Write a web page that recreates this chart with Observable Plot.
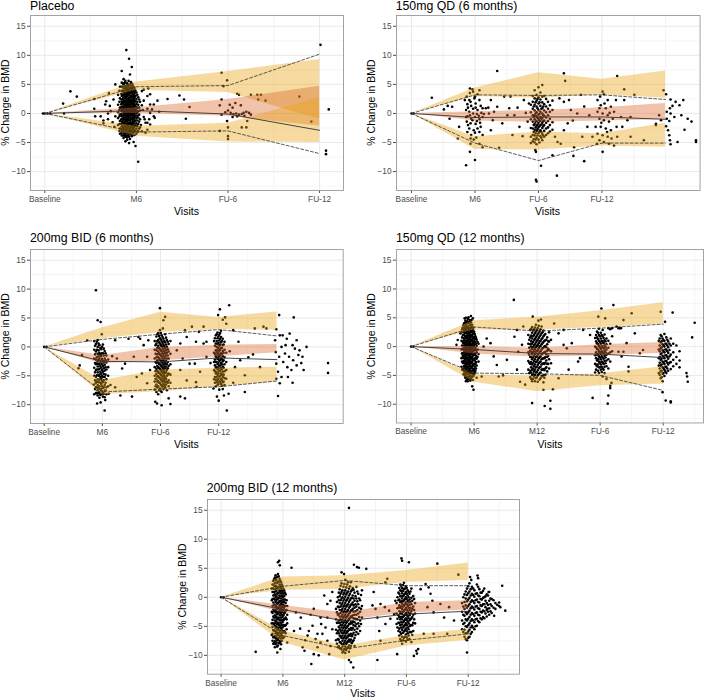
<!DOCTYPE html>
<html><head><meta charset="utf-8">
<script src="https://cdn.jsdelivr.net/npm/d3@7"></script>
<script src="https://cdn.jsdelivr.net/npm/@observablehq/plot@0.6"></script>
<style>
body{margin:0;background:#fff;}
#chart{position:relative;width:709px;height:698px;overflow:hidden;background:#fff;font-family:"Liberation Sans",Arial,sans-serif;}
.panel{position:absolute;}
.panel svg{overflow:visible;}
#overlay{position:absolute;left:0;top:0;pointer-events:none;}
</style></head><body><div id="chart"></div>
<script>
// ---------- shared ----------
const yTicks = [-10, -5, 0, 5, 10, 15];
const yMinor = [-12.5, -7.5, -2.5, 2.5, 7.5, 12.5];
const yDomain = [-13.25, 16.85];
const yTitle = "% Change in BMD";
const xTitle = "Visits";

// ---------- Panel 1: Placebo ----------
const p1Title = "Placebo";
const p1Visits = [0, 1, 2, 3];
const p1Labels = ["Baseline", "M6", "FU-6", "FU-12"];
const p1Median = [0, 0.5, -0.1, -2.9];
const p1Upper = [0, 4.6, 4.8, 10.2];
const p1Lower = [0, -3.2, -3.0, -6.9];
const p1UpLo = [0, 4.0, 3.6, -1.0];
const p1UpHi = [0, 5.4, 7.2, 9.3];
const p1MedLo = [0, 0.0, -0.5, -2.2];
const p1MedHi = [0, 1.0, 2.4, 4.7];
const p1LowLo = [0, -3.9, -4.9, -5.0];
const p1LowHi = [0, -2.2, -1.7, 2.7];
const p1Points = [
 [-0.02,0],[0,0],[0.03,0],[0.06,0],
 [0.2,1.7],[0.21,0],[0.28,3.8],[0.35,2.9],[0.54,2.5],[0.54,0.8],[0.55,-0.5],
 [0.61,-0.5],[0.64,-1.2,-1.7],[0.66,1.55],[0.67,2.1],[0.69,0,-1.0],[0.70,3.5],[0.71,1.3],[0.72,0.4],[0.74,-1.5],[0.75,2.4],[0.77,5.0,-0.5],[0.76,-2.3],
 [0.89,10.9],[0.92,9.4,-5.1],[0.95,8.0],[0.84,7.3],[0.86,5.9],[0.93,6.7,-4.4],[0.99,-5.6],[1.02,-8.3],[0.88,-4.8],[0.97,-4.9],
 [0.80,3.2,1.5,0.2,-0.8,-2.0],
 [0.815,3.9,2.0,0.6,-0.5,-1.8,-3.0],
 [0.82,4.6,2.6,1.0,-0.2,-1.3,-2.6,-3.5],
 [0.835,4.6,3.4,2.4,1.6,0.8,-0.1,-1.0,-1.8,-2.6,-3.4],
 [0.84,5.3,3.9,3.0,2.0,1.2,0.4,-0.5,-1.4,-2.2,-3.0,-3.8],
 [0.85,4.6,2.5,0.8,-1.0,-2.6],
 [0.855,5.2,3.9,3.2,2.4,1.8,1.1,0.4,-0.3,-0.9,-1.6,-2.3,-3.0,-3.8],
 [0.86,5.0,4.3,3.6,2.8,2.1,1.5,0.8,0.1,-0.6,-1.2,-1.9,-2.7,-3.4,-4.2],
 [0.87,3.2,1.9,0.5,-0.9,-2.3,-3.8],
 [0.875,5.3,4.4,3.6,2.9,2.2,1.5,0.9,0.3,-0.3,-1.0,-1.7,-2.4,-3.1,-3.8],
 [0.88,5.6,4.7,4.0,3.3,2.6,1.9,1.2,0.6,0,-0.7,-1.4,-2.1,-2.8,-3.5,-4.0],
 [0.89,4.4,2.9,1.6,0.3,-1.1,-2.5],
 [0.895,4.8,4.0,3.3,2.6,2.0,1.3,0.7,0.0,-0.6,-1.3,-2.0,-2.7,-3.4,-4.1],
 [0.90,5.2,4.4,3.7,3.0,2.3,1.6,1.0,0.3,-0.3,-1.0,-1.7,-2.4,-3.1,-3.8,-4.5],
 [0.91,4.8,3.4,2.0,0.6,-0.7,-2.0,-3.4],
 [0.915,5.6,4.5,3.7,3.1,2.4,1.7,1.1,0.4,-0.2,-0.9,-1.6,-2.3,-3.0,-3.7],
 [0.92,4.9,4.1,3.4,2.7,2.0,1.4,0.7,0.1,-0.5,-1.2,-1.9,-2.6,-3.3,-4.0],
 [0.93,3.8,2.3,1.0,-0.2,-1.6,-2.9],
 [0.935,5.0,4.3,3.5,2.8,2.1,1.5,0.8,0.2,-0.4,-1.1,-1.8,-2.5,-3.2],
 [0.94,5.4,4.6,3.8,3.1,2.4,1.8,1.1,0.5,-0.1,-0.8,-1.5,-2.2,-2.9,-3.6],
 [0.95,4.2,2.1,0.2,-1.8,-3.9],
 [0.955,5.1,4.4,3.6,2.9,2.2,1.6,0.9,0.3,-0.3,-1.0,-1.7,-2.4,-3.1,-3.8],
 [0.96,4.8,4.0,3.3,2.6,1.9,1.3,0.6,0,-0.6,-1.3,-2.0,-2.7,-3.4],
 [0.97,3.0,1.6,-0.3,-2.4],
 [0.975,4.5,3.7,3.0,2.3,1.6,1.0,0.4,-0.2,-0.9,-1.6,-2.4,-3.2],
 [0.98,4.2,3.4,2.7,2.0,1.3,0.7,0.1,-0.6,-1.3,-2.1,-2.9,-3.7],
 [0.99,3.9,3.0,2.1,1.2,0.4,-0.4,-1.2,-2.1,-3.0],
 [1.00,3.6,2.5,1.6,0.8,0,-0.8,-1.7,-2.6,-3.5],
 [1.01,3.2,2.0,1.0,0.2,-0.4,-1.2,-2.2,-3.2],
 [1.02,2.8,1.5,0.4,-0.7,-1.8,-3.0],
 [1.03,2.4,1.0,-0.2,-1.4,-2.6],
 [1.04,2.0,0.5,-1.0,-2.4],
 [1.05,-2.0],[1.06,3.85,1.4,-3.05],[1.07,0.6],[1.08,4.1,2.2,-0.6],[1.09,-1.0],[1.10,-1.6,-3.3],[1.12,3.0,0.8,-1.6,-2.8],[1.13,4.3],[1.14,-1.0],[1.15,1.55,0.1,-1.9,3.3],[1.17,0.7],[1.19,1.55,-0.5],[1.20,-0.75],[1.23,2.2],[1.25,0.3],[1.34,2.5],[1.47,3.1],[1.52,2.4],[1.54,-0.9],[1.58,1.1],
 [1.91,1.4,-3.0],[1.93,7.0,2.4,-0.2],[1.95,4.7],[1.97,0.2],[1.99,5.7,-1.3],[2.0,-2.4,-3.9,-4.4,0.5],[2.02,1.5],[2.03,0.1],[2.05,1.0,-0.6],[2.06,-0.1],[2.08,1.8],[2.09,0],[2.10,3.4,-0.5],[2.12,3.2,-0.2],[2.14,1.4],[2.15,-0.1,-2.4],[2.17,0.1],[2.18,-0.4],[2.2,0.3,-2.4],[2.21,-1.3],[2.23,0.1],[2.25,3.2,-0.2],[2.32,3.2],[2.33,2.4],[2.36,3.2],[2.41,2.2],
 [2.78,2.9],[2.91,-1.4],[3.01,11.8],[3.07,-6.4,-7.0],[3.10,0.7]
];

// ---------- Panel 2: 150mg QD (6 months) ----------
const p2Title = "150mg QD (6 months)";
const p2Visits = [0, 1, 2, 3, 4];
const p2Labels = ["Baseline", "M6", "FU-6", "FU-12"];
const p2Median = [0, -0.7, -0.6, -0.6, -1.0];
const p2Upper = [0, 3.2, 3.1, 3.2, 2.4];
const p2Lower = [0, -5.1, -8.1, -5.1, -5.1];
const p2UpLo = [0, 2.9, 2.6, 3.2, 2.6];
const p2UpHi = [0, 4.4, 7.0, 5.9, 7.3];
const p2MedLo = [0, -1.3, -1.5, -1.3, -1.1];
const p2MedHi = [0, 0.3, 0.5, 1.0, 1.7];
const p2LowLo = [0, -6.2, -6.3, -5.6, -5.8];
const p2LowHi = [0, -4.0, -3.2, -3.5, -1.7];
const p2Points = [
 [0,0],[0.03,0],[0.32,2.7],[0.51,0.7],[0.57,1.3],[0.60,-0.9],[0.64,1.15],[0.73,-4.3],[0.75,-2.3],[0.86,-8.9],[0.92,-6.6],[1.0,-8.0],[0.93,-4.3],
 [0.84,2.3],[0.86,0.6,-0.6],[0.87,2.9,-1.4],[0.88,1.6,-0.5,-3.2],[0.89,1.0,-2.0],[0.91,2.3,0.3,-2.6],[0.92,3.5,4.3,-0.3],[0.93,2.0,-1.7,-5.2],[0.94,1.3,-0.9,-3.7],[0.96,4.15,-1.15],[0.97,3.75,0.8,0],[0.98,-2.9,-4.5],[0.99,2.6],[1.0,2.9,-0.6,-3.3],[1.01,1.0,1.7,-1.8],[1.02,-4.15],[1.03,-0.1,-1.3],[1.04,3.3,0.6,-2.6],[1.06,-0.4],[1.07,2.3,-1.0,4.0,-3.2,-5.2],[1.08,-1.6],[1.09,1.3,-2.3],[1.10,0.1],[1.12,-0.6,-3.7,-5.8,0.9],[1.14,-0.1],
 [1.17,0.9],[1.21,1.0],[1.22,0],[1.25,2.3,-2.9],[1.28,-1.15],[1.30,0.3],[1.35,7.3,1.15],[1.38,-5.9],[1.43,-1.7],[1.46,2.9],[1.51,-0.3],[1.54,0.9],[1.56,2.9],[1.59,-3.7],[1.62,-0.3],[1.67,1.0],[1.70,-2.3],[1.75,-3.9],[1.77,2.3],[1.80,0.1],[1.83,-1.4],[1.85,1.7],
 [1.88,1.5,0.2,-1.0,-2.5,-4.0,-5.1],
 [1.91,3.0,2.0,0.8,-0.3,-1.4,-2.6,-3.7,-4.8],
 [1.925,1.2,-0.6,-2.0,-3.2,-4.4],
 [1.94,4.0,2.6,1.5,0.5,-0.3,-1.0,-1.8,-2.8,-3.8,-5.0],
 [1.955,1.9,0.0,-1.4,-2.4,-3.4,-4.5],
 [1.97,3.2,2.2,1.2,0.2,-0.5,-1.3,-2.1,-3.0,-4.2,-5.3],
 [1.985,2.5,0.9,-0.8,-1.9,-2.7,-3.8],
 [2.00,4.5,2.8,1.7,0.6,-0.2,-0.9,-1.6,-2.4,-3.4,-4.5],
 [2.015,1.9,-0.1,-1.2,-2.2,-3.1,-5.0],
 [2.03,3.6,2.4,1.3,0.3,-0.6,-1.3,-2.0,-2.9,-3.9],
 [2.045,0.8,-0.9,-1.9,-3.2,-4.2],
 [2.06,4.9,2.9,1.9,0.9,0,-0.8,-1.6,-2.5,-3.5,-4.6],
 [2.075,1.2,-0.3,-1.3,-2.2,-3.8],
 [2.09,3.0,1.6,0.5,-0.4,-1.2,-2.0,-3.0,-4.0],
 [2.12,2.5,1.2,0.2,-0.7,-1.6,-2.6,-3.7],
 [2.15,2.0,0.8,-0.3,-1.3,-2.4,-3.4],
 [2.18,1.4,0.3,-0.9,-2.0,-3.1],
 [2.22,2.2,0.6,-1.5,-2.8,-7.2],
 [1.96,-11.4,-6.6],[1.97,-11.7],[2.04,-9.0],[1.95,-6.3],[2.29,-10.7],
 [2.26,-4.0],[2.30,-4.9],[2.33,2.6],[2.35,-5.2],[2.40,6.9,2.0,-2.9],[2.42,5.6],[2.46,-1.7],[2.48,2.3],[2.51,0.6],[2.54,-1.2],[2.55,-7.3],[2.56,-5.8],[2.61,0],[2.67,3.2],[2.69,-4.0],[2.72,1.2,-8.2],[2.77,-2.3],[2.80,-0.3],[2.85,-4.0],
 [2.90,-2.3],[2.92,-5.2],[2.93,2.3,0.3,-3.5],[2.96,-0.9,-4.6,0.9],[2.97,2.9],[2.98,1.4,-2.3],[2.99,-1.6],[3.01,3.75,0,-3.75,-6.6],[3.03,3.3,-1.15,-4.9],[3.04,1.7],[3.06,0.9,-2.6],[3.08,-3.2],[3.09,2.3,-0.3,-4.0],[3.11,-1.4,-5.2],[3.12,0.1],[3.14,1.15,-2.9],[3.15,-4.3],[3.17,-0.9],[3.19,0.3,-5.5],[3.22,2.3],[3.23,-2.3],[3.24,6.45,-4.0],
 [3.30,-0.6],[3.32,-2.3],[3.35,4.15,2.3],[3.40,-1.15],[3.45,-0.6,-4.0],[3.51,3.2],[3.66,-4.6],[3.85,-1.8,-2.0],[3.90,-0.3],[3.93,-1.15],
 [3.97,4.0],[4.01,3.3,-2.2],[4.02,0.3,-0.9],[4.04,-2.9],[4.06,-1.3,-3.75],[4.07,0.9,-4.6],[4.08,2.4,0,-5.3],[4.11,1.3],[4.14,-0.6],[4.16,2.0],[4.19,-4.9],[4.22,1.4],[4.25,-0.3],[4.28,2.3],[4.30,-2.8],[4.35,-0.9],[4.41,-1.4],[4.48,-4.9,-4.6]
];

// ---------- Panel 3: 200mg BID (6 months) ----------
const p3Title = "200mg BID (6 months)";
const p3Visits = [0, 1, 2, 3, 4];
const p3Labels = ["Baseline", "M6", "FU-6", "FU-12"];
const p3Median = [0, -2.5, -2.6, -1.9, -2.2];
const p3Upper = [0, 1.3, 2.2, 3.0, 1.9];
const p3Lower = [0, -7.8, -7.3, -6.9, -5.9];
const p3UpLo = [0, 1.4, 2.5, 3.0, 2.9];
const p3UpHi = [0, 3.3, 6.0, 5.1, 6.05];
const p3MedLo = [0, -2.9, -2.4, -1.7, -1.0];
const p3MedHi = [0, -1.5, -0.1, 0.3, 0.4];
const p3LowLo = [0, -8.3, -7.7, -6.9, -6.05];
const p3LowHi = [0, -5.8, -4.0, -3.7, -3.5];
const p3Points = [
 [0,0],[0.04,0],[0.59,-3.7],[0.61,-3.2],[0.65,-1.4],[0.74,1.15],
 [0.89,9.8],[0.92,4.6],[0.97,4.3],[0.99,2.2],[0.91,-9.8],[0.97,-9.6],[1.04,-11.0],[1.05,-9.2],[1.01,-8.6],[1.11,-8.1],[1.31,-8.4],
 [0.86,1.0,-0.5,-2.0,-3.6,-5.0,-6.5,-8.2],
 [0.875,0.2,-1.3,-2.8,-4.4,-5.8,-7.3],
 [0.89,0.5,-0.8,-2.2,-3.0,-4.0,-5.2,-6.2,-7.0,-8.0],
 [0.905,0.9,-0.5,-1.8,-2.9,-3.9,-4.9,-6.0,-7.0,-8.0],
 [0.92,1.2,0.0,-1.2,-2.5,-3.4,-4.4,-5.6,-6.6,-7.5,-8.4],
 [0.935,0.6,-0.6,-1.6,-2.2,-3.0,-3.9,-5.0,-6.1,-7.1,-8.0],
 [0.95,0.3,-1.0,-2.0,-2.9,-3.8,-4.8,-5.7,-6.8,-7.8,-8.8],
 [0.965,-0.2,-1.3,-2.4,-3.3,-4.3,-5.2,-6.2,-7.3,-8.3],
 [0.98,-0.4,-1.6,-2.7,-3.6,-4.6,-5.5,-6.4,-7.3,-8.2],
 [0.995,0.0,-1.1,-2.1,-3.0,-4.0,-5.0,-5.9,-6.8,-7.7],
 [1.01,0.4,-1.1,-2.4,-3.3,-4.3,-5.2,-6.1,-7.1,-8.0],
 [1.025,-0.3,-1.5,-2.7,-3.7,-4.7,-5.8,-7.0,-8.1],
 [1.04,-0.7,-2.0,-3.1,-4.1,-5.2,-6.6,-7.6,-8.7],
 [1.055,-1.1,-2.3,-3.5,-4.8,-6.2,-7.5],
 [1.07,-1.5,-2.7,-3.9,-5.6,-7.0,-8.2],
 [1.10,-2.2,-3.5,-5.0,-6.8],
 [1.14,-6.6],[1.17,-1.6],[1.22,1.15,-7.0],[1.25,-2.0],[1.34,-3.75],[1.39,-2.9],[1.45,1.4],[1.51,-8.6],[1.54,-1.7],[1.59,-5.2],[1.62,1.7],[1.65,1.4],[1.68,-4.6],[1.71,0.3],[1.77,-1.7,-6.3],[1.79,1.15],[1.82,-4.0],
 [1.99,6.7],[2.05,4.6],[2.08,5.2],[1.94,-9.8],[2.02,-10.1],[2.17,-9.9],[1.91,-9.5],[2.14,-8.9],[2.04,3.2],
 [1.90,1.0,-0.5,-2.0,-3.5,-5.0,-6.0,-7.4],
 [1.915,0.3,-1.2,-2.6,-4.2,-5.5,-6.8],
 [1.93,1.8,0.6,-0.6,-1.8,-2.8,-3.8,-4.7,-5.6,-6.5,-7.8],
 [1.945,2.2,1.0,-0.2,-1.3,-2.3,-3.3,-4.2,-5.1,-6.0,-7.0],
 [1.96,2.4,1.2,0.2,-0.8,-1.8,-2.7,-3.5,-4.3,-5.1,-5.9,-6.8,-8.2],
 [1.975,1.9,0.8,-0.2,-1.1,-2.0,-2.9,-3.7,-4.5,-5.3,-6.2,-7.5],
 [1.99,2.9,1.5,0.6,-0.4,-1.3,-2.2,-3.0,-3.8,-4.6,-5.4,-6.2,-7.2],
 [2.005,2.4,1.3,0.3,-0.6,-1.5,-2.4,-3.2,-4.0,-4.8,-5.6,-6.5,-7.6],
 [2.02,2.0,1.0,0.1,-0.8,-1.7,-2.6,-3.4,-4.2,-5.0,-5.8,-6.7,-7.8],
 [2.035,1.7,0.7,-0.2,-1.1,-2.0,-2.8,-3.6,-4.4,-5.2,-6.0,-6.9],
 [2.05,1.4,0.4,-0.5,-1.4,-2.3,-3.1,-3.9,-4.7,-5.5,-6.4,-7.3],
 [2.065,1.0,0.1,-0.8,-1.7,-2.6,-3.4,-4.2,-5.0,-5.8,-6.7],
 [2.08,2.2,0.8,-0.2,-1.1,-2.0,-2.9,-3.7,-4.5,-5.3,-6.1,-7.0],
 [2.095,1.6,0.4,-0.6,-1.5,-2.5,-3.4,-4.4,-5.5,-6.5],
 [2.11,1.2,0,-1.0,-2.0,-3.0,-4.0,-5.0,-6.0,-7.5],
 [2.125,0.9,-0.4,-1.5,-2.6,-3.7,-4.8,-6.2],
 [2.14,0.5,-0.8,-2.0,-3.3,-4.6,-5.8,-6.8],
 [2.17,1.0,-1.2,-3.0,-4.8,-6.2],
 [2.28,-0.6],[2.34,0.6,-4.0,-8.6],[2.38,-2.0],[2.42,2.9,-8.9],[2.45,1.7,-5.8],[2.50,-2.9],[2.54,3.5],[2.59,-2.9],[2.61,0.9,-6.1],[2.62,-6.9],[2.66,2.6],[2.68,-4.3],[2.74,0.6,3.5],[2.79,-1.7,0.9],[2.86,-2.8],
 [3.02,6.5],[3.18,7.2],[2.99,5.5],[3.11,5.1],[3.07,4.7],[3.13,4.0],[3.14,-11.0],[3.0,-9.3],[2.97,-8.6],[3.09,-8.4],[3.17,-8.1],[2.91,-7.2],[3.25,-6.2],
 [2.92,1.0,-1.0,-2.6,-4.0,-5.6],
 [2.935,1.5,0.2,-1.2,-2.2,-3.2,-4.2,-5.2,-6.2],
 [2.95,2.0,0.6,-0.6,-1.6,-2.6,-3.6,-4.6,-5.7,-6.8],
 [2.965,2.2,1.0,0.0,-0.9,-1.8,-2.6,-3.5,-4.4,-5.2,-6.1],
 [2.98,2.5,1.5,0.5,-0.5,-1.3,-2.1,-3.0,-3.9,-4.8,-5.7,-6.6],
 [2.995,1.8,0.7,-0.2,-1.1,-2.0,-2.8,-3.7,-4.6,-5.5,-6.4],
 [3.01,2.1,1.1,0.2,-0.7,-1.6,-2.4,-3.3,-4.2,-5.1,-6.0,-7.4],
 [3.025,2.4,1.4,0.4,-0.5,-1.4,-2.3,-3.2,-4.1,-5.0,-6.0],
 [3.04,2.8,1.7,0.8,-0.2,-1.1,-2.0,-2.8,-3.7,-4.6,-5.5,-6.4],
 [3.055,1.0,-0.2,-1.2,-2.1,-3.0,-3.9,-4.8,-5.7,-6.7],
 [3.07,1.4,0.3,-0.7,-1.6,-2.5,-3.4,-4.3,-5.2,-6.1,-7.3],
 [3.085,0.4,-1.0,-2.3,-3.6,-4.8,-6.0],
 [3.10,0.9,-0.5,-1.8,-3.0,-4.2,-5.4,-6.6],
 [3.13,-1.0,-2.6,-4.0,-5.5],
 [3.19,-0.75],[3.25,2.9],[3.28,-3.5],[3.34,0.9],[3.37,-2.3],[3.45,-4.9,-7.8],[3.51,-1.8],[3.59,-1.3],[3.62,3.2],[3.71,-3.5],[3.77,3.5],[3.82,3.2],
 [3.97,1.15],[3.98,-0.9],[3.99,3.05,-5.5,-2.9],[4.02,-8.5,-4.3],[4.04,5.5,-1.7],[4.05,-6.3,2.0],[4.08,0,-5.2],[4.10,2.0],[4.11,-2.6],[4.14,-1.15],[4.15,0.3],[4.17,1.4],[4.18,-3.5],[4.19,-5.2],[4.21,-1.7],[4.22,2.3],[4.25,-4.0],[4.27,0.3,-6.2],[4.28,-2.3],[4.29,5.1],[4.31,-0.3],[4.34,1.15,-3.2],[4.37,-1.4],[4.39,-0.6],[4.42,-2.8],[4.44,-1.7],[4.46,-4.0],[4.51,0],[4.88,-2.8,-4.5]
];

// ---------- Panel 4: 150mg QD (12 months) ----------
const p4Title = "150mg QD (12 months)";
const p4Visits = [0, 1, 2, 3, 4];
const p4Labels = ["Baseline", "M6", "M12", "FU-6", "FU-12"];
const p4Median = [0, -0.5, -1.2, -1.3, -1.9];
const p4Upper = [0, 3.4, 2.7, 3.2, 3.9];
const p4Lower = [0, -4.6, -4.7, -5.0, -7.6];
const p4UpLo = [0, 2.9, 2.9, 3.3, 3.9];
const p4UpHi = [0, 4.5, 5.1, 6.2, 7.6];
const p4MedLo = [0, -1.3, -1.8, -1.6, -1.15];
const p4MedHi = [0, 0.0, -0.3, 0.3, 0.7];
const p4LowLo = [0, -6.2, -7.8, -6.8, -6.5];
const p4LowHi = [0, -4.9, -5.2, -4.7, -3.5];
const p4Points = [
 [0,0],[0.04,0],[0.72,0.3],[0.74,1.15],[0.78,2.3],[0.81,-1.15],
 [0.91,5.1],[0.95,5.3],[0.98,4.9],[0.99,-7.5],[0.97,-6.9],[1.04,-5.4],[1.12,-5.2],
 [0.80,2.5,1.0,-0.5,-2.0,-3.5],
 [0.81,3.0,1.6,0.2,-1.2,-2.6,-4.0],
 [0.82,3.3,2.0,0.8,-0.4,-1.6,-2.8,-4.0],
 [0.83,3.7,2.6,1.5,0.6,-0.3,-1.2,-2.0,-2.9,-3.8,-4.8],
 [0.84,4.0,3.0,2.0,1.1,0.2,-0.7,-1.6,-2.5,-3.4,-4.3],
 [0.85,4.9,4.1,3.2,2.3,1.4,0.6,-0.2,-1.0,-1.8,-2.6,-3.4,-4.2,-5.0],
 [0.86,4.5,3.6,2.7,1.8,1.0,0.2,-0.6,-1.4,-2.2,-3.0,-3.8,-4.6,-5.4],
 [0.87,5.0,4.2,3.3,2.5,1.7,0.9,0.3,-0.4,-1.2,-2.0,-2.8,-3.6,-4.4,-5.2,-6.0],
 [0.88,3.9,3.1,2.3,1.5,0.7,0,-0.8,-1.6,-2.4,-3.2,-4.0,-4.8,-5.8],
 [0.89,4.4,3.5,2.7,1.9,1.1,0.4,-0.4,-1.2,-2.0,-2.8,-3.6,-4.4,-5.4],
 [0.90,4.8,3.5,2.7,1.9,1.2,0.4,-0.3,-1.1,-1.9,-2.7,-3.5,-4.3,-5.2,-6.0],
 [0.91,4.1,3.1,2.3,1.5,0.8,0.0,-0.7,-1.5,-2.3,-3.1,-3.9,-4.7,-5.6],
 [0.92,4.2,3.2,2.4,1.6,0.8,0.1,-0.6,-1.4,-2.2,-3.0,-3.8,-4.6,-5.5],
 [0.93,4.6,3.7,2.8,2.0,1.2,0.5,-0.2,-1.0,-1.8,-2.6,-3.4,-4.2,-5.1],
 [0.94,3.8,2.9,2.1,1.3,0.5,-0.2,-0.9,-1.7,-2.5,-3.3,-4.1,-5.0,-5.9],
 [0.95,4.2,3.3,2.5,1.7,0.9,0.1,-0.6,-1.3,-2.1,-2.9,-3.7,-4.6,-5.6],
 [0.96,4.6,3.4,2.6,1.8,1.0,0.2,-0.5,-1.2,-2.0,-2.8,-3.6,-4.4,-5.3],
 [0.97,3.8,2.8,2.0,1.2,0.4,-0.3,-1.0,-1.8,-2.6,-3.4,-4.3,-5.2],
 [0.98,3.0,2.2,1.4,0.6,-0.1,-0.8,-1.5,-2.3,-3.1,-3.9,-4.8,-5.8],
 [0.99,3.3,2.4,1.6,0.8,0.0,-0.7,-1.5,-2.3,-3.2,-4.2,-5.1],
 [1.00,2.6,1.7,0.9,0.1,-0.6,-1.3,-2.1,-3.0,-3.9,-4.8],
 [1.01,2.2,1.3,0.4,-0.5,-1.4,-2.4,-3.5,-4.5],
 [1.02,1.8,0.8,-0.2,-1.1,-2.0,-3.0,-4.2],
 [1.03,1.5,0.5,-0.6,-1.6,-2.7,-3.8],
 [1.04,1.2,0.1,-1.0,-2.1,-3.3],
 [1.055,0.8,-0.5,-1.8],
 [1.07,0.5,-1.3,-2.6],
 [1.15,0],[1.20,1.4],[1.26,0.6],[1.31,-1.7],[1.36,-3.2],[1.39,-5.2],[1.46,-5.0],[1.52,-2.3],[1.63,8.1],[1.64,1.7],[1.68,2.9,-4.0],[1.70,-0.9],[1.73,-6.1],[1.76,0.3],[1.78,3.5],[1.81,-6.6],
 [1.93,5.2],[2.06,4.7],[2.02,4.5],[1.92,-9.8],[2.12,-10.3],[2.21,-10.8,-9.4],[2.10,-7.5],[2.25,-7.4],[2.27,4.0],[2.34,-5.5,2.3],
 [1.86,2.0,0.5,-1.0,-2.5,-4.0],
 [1.875,1.2,-0.2,-1.4,-2.8,-4.6],
 [1.89,2.9,1.6,0.4,-0.7,-1.8,-3.0,-4.2,-5.3],
 [1.905,3.1,1.9,0.9,0.0,-0.9,-1.8,-2.7,-3.6,-4.5,-5.6],
 [1.92,3.4,2.4,1.4,0.5,-0.4,-1.3,-2.2,-3.1,-4.0,-4.9,-6.0],
 [1.935,2.8,1.8,0.8,-0.1,-1.0,-1.9,-2.9,-3.8,-4.7,-5.6],
 [1.95,3.0,2.0,1.1,0.2,-0.7,-1.6,-2.5,-3.4,-4.3,-5.2],
 [1.965,3.3,2.3,1.3,0.4,-0.4,-1.3,-2.2,-3.1,-4.0,-4.9,-6.0],
 [1.98,3.8,2.6,1.6,0.7,-0.1,-0.9,-1.8,-2.7,-3.6,-4.5,-5.5],
 [1.995,2.9,1.9,1.0,0.1,-0.8,-1.7,-2.6,-3.5,-4.4,-5.3],
 [2.01,3.2,2.2,1.2,0.3,-0.6,-1.4,-2.3,-3.2,-4.1,-5.0,-6.1],
 [2.025,3.6,2.4,1.5,0.6,-0.3,-1.2,-2.0,-2.9,-3.8,-4.8],
 [2.04,2.7,1.8,0.9,0,-0.9,-1.8,-2.7,-3.6,-4.6,-5.7],
 [2.055,3.0,2.0,1.0,0.1,-0.8,-1.7,-2.6,-3.5,-4.5,-5.5],
 [2.07,3.5,2.3,1.3,0.4,-0.5,-1.3,-2.2,-3.1,-4.0,-5.1],
 [2.085,2.5,1.5,0.6,-0.3,-1.2,-2.1,-3.0,-4.0,-5.2],
 [2.10,2.8,1.8,0.8,-0.2,-1.1,-2.0,-2.9,-3.9,-5.0,-6.2],
 [2.115,2.0,1.0,0.0,-1.0,-2.0,-3.0,-4.1,-5.4],
 [2.13,2.2,1.1,0.1,-0.9,-1.8,-2.8,-3.8,-4.9],
 [2.145,1.2,-0.1,-1.3,-2.4,-3.6],
 [2.16,1.6,0.4,-0.7,-1.8,-3.0,-4.3],
 [2.175,0.9,-0.4,-1.6,-3.0],
 [2.19,2.5,0.9,-0.6,-2.2,-3.8],
 [2.22,1.2,-0.8,-2.9],
 [2.42,0.3,2.9],[2.47,-0.3],[2.50,-4.0],[2.55,0.6],[2.65,-2.6],[2.68,-2.0],[2.73,2.9],[2.84,2.0],
 [3.02,6.6],[3.21,7.2],[2.88,-8.9],[3.12,-9.9],[3.13,-8.5],[3.16,-6.8,-7.2],[3.18,-6.3],[2.97,5.2],[3.08,4.9],
 [2.92,1.5,0,-1.5,-3.0,-4.5],
 [2.935,2.0,0.9,-0.1,-1.0,-2.0,-3.1,-4.0],
 [2.95,2.6,1.6,0.6,-0.4,-1.4,-2.4,-3.4],
 [2.965,2.4,1.3,0.4,-0.5,-1.3,-2.2,-3.1,-4.2],
 [2.98,3.1,2.0,1.0,0.1,-0.8,-1.7,-2.6,-3.6,-4.6],
 [2.995,1.8,0.8,-0.1,-1.0,-1.9,-2.8,-3.6],
 [3.01,2.4,1.4,0.5,-0.4,-1.3,-2.2,-3.1,-4.0],
 [3.025,2.0,1.0,0.1,-0.8,-1.7,-2.6,-3.5,-4.4],
 [3.04,2.9,1.8,0.8,-0.1,-1.0,-1.9,-2.8,-3.8,-5.2],
 [3.055,1.5,0.6,-0.3,-1.2,-2.1,-3.0,-4.0],
 [3.07,2.1,1.1,0.2,-0.7,-1.6,-2.5,-3.5,-4.6],
 [3.085,0.9,-0.1,-1.0,-1.9,-2.9],
 [3.10,1.4,0.4,-0.5,-1.4,-2.4,-3.4,-5.6],
 [3.13,3.2,1.0,-0.2,-1.2,-2.2,-3.8],
 [3.16,3.0,0.5,-1.0,-2.6],
 [3.19,3.2,1.8,-0.8],
 [3.26,3.5],[3.29,3.2,-0.9],[3.31,3.2],[3.33,3.2],[3.34,-1.7],[3.37,-0.9,4.6],[3.42,0.6],[3.45,-3.5,-4.3],[3.50,5.8],[3.55,2.3],[3.63,-1.15],[3.68,-0.6],
 [3.96,6.05],[4.15,5.9],[4.03,4.3],[4.04,-9.35],[4.12,-9.5,-9.7],[3.99,-7.9],[4.39,-6.1],[4.50,4.15],[4.46,1.6],[4.37,-4.6],[4.38,-5.2],
 [3.93,1.0,-0.5,-2.0,-3.3,-4.6],
 [3.945,1.4,0.2,-0.8,-1.8,-2.8,-3.8,-4.9],
 [3.96,2.0,0.7,-0.3,-1.3,-2.3,-3.3,-4.3,-5.5],
 [3.975,1.8,0.9,-0.1,-1.1,-2.1,-3.1,-4.2,-5.3],
 [3.99,1.4,0.4,-0.6,-1.6,-2.6,-3.6,-4.7,-6.0],
 [4.005,1.1,0.2,-0.8,-1.8,-2.8,-3.8,-4.6],
 [4.02,2.2,1.0,0,-1.0,-2.0,-3.0,-4.0,-5.1],
 [4.035,0.5,-0.5,-1.5,-2.5,-3.5,-4.3],
 [4.05,1.6,0.5,-0.5,-1.5,-2.5,-3.5,-4.6],
 [4.065,1.2,0.2,-0.8,-1.8,-2.8,-3.8],
 [4.08,0.9,-0.1,-1.1,-2.1,-3.1,-4.2],
 [4.10,0.5,-0.6,-1.7,-2.8],
 [4.12,1.4,0.2,-1.4,-2.7,-3.9],
 [4.16,0.5,-1.0,-2.3,-3.4],
 [4.21,0.2,-1.8,-3.0],
 [4.26,-0.8,-2.4,-3.6]
];

// ---------- Panel 5: 200mg BID (12 months) ----------
const p5Title = "200mg BID (12 months)";
const p5Visits = [0, 1, 2, 3, 4];
const p5Labels = ["Baseline", "M6", "M12", "FU-6", "FU-12"];
const p5Median = [0, -2.1, -4.1, -2.9, -2.4];
const p5Upper = [0, 1.9, 2.9, 2.0, 2.0];
const p5Lower = [0, -6.6, -8.9, -7.4, -6.3];
const p5UpLo = [0, 1.2, 1.4, 2.6, 2.9];
const p5UpHi = [0, 3.5, 3.7, 4.6, 5.9];
const p5MedLo = [0, -2.6, -4.0, -2.7, -2.2];
const p5MedHi = [0, -1.4, -2.7, -0.9, -0.6];
const p5LowLo = [0, -7.8, -10.8, -8.4, -7.4];
const p5LowHi = [0, -5.8, -8.4, -6.6, -5.5];
const p5Points = [
 [0,0],[0.04,0],[0.56,-9.4],
 [0.94,6.3],[0.92,6.05],[0.95,5.5],[0.88,3.2],[1.14,5.1],[0.91,-9.5],[0.96,-8.9],[1.07,-7.8],
 [0.82,1.5,-0.5,-2.5,-4.5,-6.5],
 [0.8325,2.2,0.9,-0.3,-1.5,-2.7,-3.9,-5.1,-6.3,-7.5],
 [0.845,2.8,1.5,0.3,-0.9,-2.1,-3.3,-4.5,-5.7,-6.9,-8.0],
 [0.8575,3.1,2.0,0.9,-0.2,-1.3,-2.4,-3.5,-4.6,-5.7,-6.8,-7.9],
 [0.87,3.4,2.4,1.4,0.5,-0.4,-1.3,-2.2,-3.1,-4.0,-4.9,-5.8,-6.7,-7.6,-8.6],
 [0.8825,3.8,2.9,1.9,1.0,0.1,-0.8,-1.7,-2.6,-3.5,-4.4,-5.3,-6.2,-7.1,-8.1],
 [0.895,3.0,2.0,1.1,0.2,-0.6,-1.5,-2.4,-3.3,-4.2,-5.1,-6.0,-6.9,-7.8],
 [0.9075,3.5,2.5,1.5,0.6,-0.3,-1.1,-2.0,-2.9,-3.8,-4.7,-5.6,-6.5,-7.4,-8.5],
 [0.92,4.0,2.6,1.6,0.7,-0.2,-1.0,-1.8,-2.7,-3.6,-4.5,-5.4,-6.3,-7.2,-8.3],
 [0.9325,3.6,2.7,1.7,0.8,-0.1,-0.9,-1.8,-2.6,-3.5,-4.4,-5.2,-6.1,-7.0,-7.9],
 [0.945,3.2,2.2,1.2,0.3,-0.6,-1.4,-2.2,-3.0,-3.9,-4.8,-5.7,-6.6,-7.5],
 [0.9575,2.9,2.0,1.1,0.2,-0.7,-1.5,-2.3,-3.1,-4.0,-4.9,-5.8,-6.7,-7.7],
 [0.97,2.6,1.6,0.7,-0.2,-1.1,-1.9,-2.7,-3.5,-4.4,-5.3,-6.2,-7.1,-8.1],
 [0.9825,2.2,1.2,0.3,-0.6,-1.4,-2.2,-3.0,-3.9,-4.8,-5.7,-6.6,-7.5],
 [0.995,1.9,0.9,0,-0.9,-1.7,-2.5,-3.4,-4.3,-5.2,-6.1,-7.0],
 [1.0075,1.5,0.6,-0.4,-1.3,-2.2,-3.1,-4.0,-5.0,-6.0,-7.0],
 [1.02,1.2,0.2,-0.8,-1.8,-2.8,-3.8,-4.8,-5.8,-6.8],
 [1.0325,0.8,-0.4,-1.5,-2.6,-3.7,-4.9,-6.0],
 [1.045,0.5,-1.0,-2.3,-3.5,-4.8,-6.2],
 [1.06,-0.5,-2.2,-3.8,-5.5],
 [1.07,-1.5,-3.0,-4.5],
 [1.18,-5.8],[1.21,-2.6],[1.28,-5.4],[1.29,-3.5],[1.32,-8.6],[1.35,-9.2],[1.36,-7.4],[1.40,-6.6],[1.42,-5.8],[1.45,-3.0],[1.46,-11.5],[1.48,-4.9],[1.50,-2.0,-9.8],[1.53,-7.2],[1.56,-6.3,-8.6],[1.58,-10.0],[1.61,-7.8,-3.5],[1.62,-4.6],[1.64,-6.3],[1.67,0.3],[1.69,-5.2],[1.72,-7.5,-3.5,-1.15],[1.75,-9.8],[1.77,-8.4,-0.6],[1.80,-5.5,0.9],
 [2.07,15.4],[1.95,4.3],[1.99,4.0],[2.15,5.6],[2.20,5.2],[2.23,5.1],[2.35,4.9],[2.07,-10.8],[2.14,-12.1],[2.10,-11.2],
 [1.86,-2.0,-3.8,-5.6,-7.4],
 [1.875,-0.8,-2.6,-4.4,-6.2,-8.0],
 [1.89,0,-1.6,-3.0,-4.4,-5.8,-7.2,-8.6],
 [1.905,0.8,-0.5,-1.7,-2.9,-4.0,-5.1,-6.2,-7.3,-8.4],
 [1.92,1.4,0.2,-1.0,-2.2,-3.3,-4.4,-5.5,-6.6,-7.7,-8.8],
 [1.935,2.0,0.6,-0.5,-1.6,-2.7,-3.8,-4.8,-5.8,-6.8,-7.8,-8.8],
 [1.95,2.4,0.9,-0.2,-1.3,-2.3,-3.3,-4.3,-5.2,-6.1,-7.0,-8.0,-9.0],
 [1.965,1.2,0.0,-1.0,-2.0,-3.0,-3.9,-4.8,-5.7,-6.6,-7.5,-8.5,-9.5],
 [1.98,1.8,0.5,-0.6,-1.6,-2.6,-3.5,-4.4,-5.3,-6.2,-7.1,-8.1,-9.3],
 [1.995,2.3,0.8,-0.3,-1.4,-2.4,-3.3,-4.2,-5.1,-6.0,-6.9,-7.8,-8.9],
 [2.01,3.0,1.2,0.1,-1.0,-2.0,-3.0,-3.9,-4.8,-5.7,-6.6,-7.5,-8.5,-9.6],
 [2.025,1.7,0.5,-0.6,-1.6,-2.6,-3.5,-4.4,-5.3,-6.2,-7.1,-8.0,-9.1],
 [2.04,2.2,0.8,-0.4,-1.4,-2.4,-3.3,-4.2,-5.1,-6.0,-6.9,-7.8,-8.8],
 [2.055,2.6,1.0,-0.1,-1.2,-2.2,-3.1,-4.0,-4.9,-5.8,-6.7,-7.6,-8.6],
 [2.07,1.5,0.3,-0.8,-1.8,-2.8,-3.7,-4.6,-5.5,-6.4,-7.3,-8.3,-9.4],
 [2.085,1.9,0.6,-0.5,-1.6,-2.6,-3.6,-4.6,-5.6,-6.6,-7.6,-8.8],
 [2.10,2.6,1.0,-0.2,-1.3,-2.3,-3.3,-4.3,-5.3,-6.3,-7.3,-8.4],
 [2.115,1.2,-0.1,-1.2,-2.3,-3.4,-4.5,-5.6,-6.7,-7.9],
 [2.13,1.6,0.3,-0.9,-2.0,-3.1,-4.2,-5.3,-6.4,-7.6],
 [2.145,1.3,-0.2,-1.4,-2.5,-3.6,-4.8,-6.1,-7.4],
 [2.16,0.8,-0.6,-1.8,-3.0,-4.3,-5.6,-7.0,-8.4],
 [2.175,0.2,-1.2,-2.4,-3.7,-5.0,-6.5],
 [2.19,1.8,-0.2,-1.6,-3.0,-4.6,-6.0],
 [2.205,1.0,-0.7,-2.2,-3.8,-5.4],
 [2.22,0.6,-1.2,-2.8,-4.5,-6.3],
 [2.235,-0.2,-1.8,-3.4,-5.0],
 [2.25,-0.5,-2.5,-4.0,-5.8],
 [2.265,0.4,-2.0,-4.6],
 [2.28,1.2,-1.5,-3.5],
 [2.45,-1.4],[2.47,0.9],[2.50,-2.0],[2.53,-3.5,-10.8],[2.56,-5.8],[2.58,-7.5,-1.15],[2.65,-1.7],[2.66,2.6,-4.6],[2.69,3.2],[2.72,-2.3],[2.74,-3.7],[2.80,-2.9],[2.82,-0.6],
 [2.92,6.7],[2.93,6.3],[3.04,6.05],[3.12,-10.1],[3.17,-9.7],[3.19,-8.9],[3.16,-9.2],[2.85,-9.8],
 [2.84,-1.0,-2.8,-4.6],
 [2.855,0.0,-1.9,-3.7,-5.2],
 [2.87,0.8,-0.5,-1.8,-3.1,-4.4,-5.8],
 [2.885,1.6,0.6,-0.4,-1.4,-2.4,-3.4,-4.4,-5.4,-6.6],
 [2.90,2.2,1.2,0.2,-0.8,-1.8,-2.8,-3.8,-4.8,-6.0,-7.2],
 [2.915,2.0,1.1,0.2,-0.7,-1.6,-2.5,-3.4,-4.3,-5.2,-6.3,-7.5],
 [2.93,1.6,0.7,-0.2,-1.1,-2.0,-2.9,-3.8,-4.7,-5.6,-6.8,-8.0],
 [2.945,2.1,1.1,0.2,-0.7,-1.6,-2.5,-3.4,-4.3,-5.2,-6.1,-7.4],
 [2.96,2.5,1.4,0.4,-0.5,-1.4,-2.3,-3.2,-4.1,-5.0,-5.9,-7.0],
 [2.975,1.5,0.6,-0.3,-1.2,-2.1,-3.0,-3.9,-4.8,-5.7,-6.8],
 [2.99,1.9,0.9,0,-0.9,-1.8,-2.7,-3.6,-4.5,-5.4,-6.4,-7.6],
 [3.005,1.6,0.6,-0.3,-1.2,-2.1,-3.0,-3.9,-4.8,-5.8,-6.9],
 [3.02,1.2,0.3,-0.6,-1.5,-2.4,-3.3,-4.2,-5.2,-6.2,-7.3],
 [3.035,0.9,0.0,-0.9,-1.8,-2.7,-3.6,-4.5,-5.5,-6.6],
 [3.05,0.6,-0.4,-1.3,-2.2,-3.1,-4.0,-5.0,-6.0,-7.2],
 [3.065,1.0,-0.8,-1.8,-2.8,-3.8,-4.8,-6.0],
 [3.08,1.5,-0.1,-1.2,-2.4,-3.6,-4.8,-6.0,-7.7],
 [3.095,-0.6,-2.0,-3.4,-4.8,-6.5],
 [3.11,0.2,-1.6,-3.0,-4.4,-5.8],
 [3.125,-0.3,-2.2,-3.8],
 [3.14,-1.0,-2.8,-4.5],
 [3.23,1.4],[3.28,-6.3],[3.31,2.3],[3.34,-1.7],[3.36,1.7],[3.39,0.6],[3.42,-0.6],[3.44,-2.6,-6.3],[3.50,5.8],[3.55,-1.15],[3.61,-3.5],[3.66,-6.3],[3.69,-1.7],[3.77,-4.0],
 [3.84,3.9],[4.03,3.5],[4.05,3.0],[4.15,3.75],[4.16,3.3],[3.98,-9.5],[4.55,2.0],[4.33,0.9],
 [3.90,-1.0,-2.5,-4.0,-5.5],
 [3.92,0.0,-1.6,-3.0,-4.6,-6.0],
 [3.94,0.5,-0.8,-2.0,-3.2,-4.4,-5.6,-6.8],
 [3.96,1.0,-0.2,-1.4,-2.6,-3.8,-5.0,-6.2,-7.2],
 [3.98,1.5,0.4,-0.7,-1.8,-2.9,-4.0,-5.1,-6.2,-7.4],
 [4.00,1.9,0.7,-0.4,-1.5,-2.6,-3.7,-4.8,-5.9,-7.0],
 [4.02,2.4,1.0,-0.1,-1.2,-2.3,-3.4,-4.5,-5.6,-6.8],
 [4.04,1.4,0.3,-0.8,-1.9,-3.0,-4.1,-5.2,-6.3],
 [4.06,1.8,0.6,-0.5,-1.6,-2.7,-3.8,-4.9,-6.0],
 [4.08,1.5,0.4,-0.7,-1.8,-2.9,-4.0,-5.2],
 [4.10,1.2,0.1,-1.0,-2.1,-3.2,-4.3,-5.5],
 [4.12,0.6,-0.5,-1.6,-2.7,-3.8,-5.0],
 [4.14,2.2,0.7,-0.4,-1.5,-2.6,-3.7,-4.9],
 [4.16,1.8,0.3,-0.8,-1.9,-3.0,-4.1],
 [4.18,1.4,0.2,-0.9,-2.0,-3.1,-4.3],
 [4.20,0.8,-0.3,-1.4,-2.5,-3.6],
 [4.22,0.8,-0.4,-1.5,-2.6,-3.8],
 [4.24,1.1,-0.1,-1.2,-2.3,-3.4],
 [4.26,1.5,0,-1.2,-2.4,-3.6],
 [4.28,0.2,-0.6,-1.7,-2.8],
 [4.30,0.5,-1.0,-2.2,-3.3],
 [4.32,0.3,-1.3,-2.5],
 [4.34,0.9,-0.6,-1.9,-3.0],
 [4.36,-0.2,-1.2,-2.4],
 [4.38,-0.3,-1.5,-2.7],
 [4.41,-0.5,-1.8],
 [4.44,-1.0,-2.0],
 [4.47,-1.3],
 [4.50,-1.5,-0.9],[4.52,-1.7],[4.60,-2.3],[4.42,-3.2],[4.31,-2.0]
];

// ---------- layout of each panel (frame in page pixels) ----------
const panels = [
 {title: p1Title, fl: 30, fr: 343, ft: 15, fb: 190, tb: 10, xb: 214.5, xdom: [-0.156, 3.261], minorX: [0.5, 1.5, 2.5],
  visits: p1Visits, labels: p1Labels, pts: p1Points, med: p1Median, up: p1Upper, lo: p1Lower,
  bUL: p1UpLo, bUH: p1UpHi, bML: p1MedLo, bMH: p1MedHi, bLL: p1LowLo, bLH: p1LowHi},
 {title: p2Title, fl: 395.7, fr: 699.3, ft: 15, fb: 190, tb: 10, xb: 214.5, xdom: [-0.236, 4.545], minorX: [0.5, 1.5, 2.5, 3.5, 4],
  visits: p2Visits, labels: p2Labels, pts: p2Points, med: p2Median, up: p2Upper, lo: p2Lower,
  bUL: p2UpLo, bUH: p2UpHi, bML: p2MedLo, bMH: p2MedHi, bLL: p2LowLo, bLH: p2LowHi},
 {title: p3Title, fl: 30, fr: 342.7, ft: 249.3, fb: 423.3, tb: 241.5, xb: 447.8, xdom: [-0.235, 5.14], minorX: [0.5, 1.5, 2.5, 3.5, 4],
  visits: p3Visits, labels: p3Labels, pts: p3Points, med: p3Median, up: p3Upper, lo: p3Lower,
  bUL: p3UpLo, bUH: p3UpHi, bML: p3MedLo, bMH: p3MedHi, bLL: p3LowLo, bLH: p3LowHi},
 {title: p4Title, fl: 396, fr: 704, ft: 249.3, fb: 423.3, tb: 241.5, xb: 447.8, xdom: [-0.233, 4.64], minorX: [0.5, 1.5, 2.5, 3.5, 4.5],
  visits: p4Visits, labels: p4Labels, pts: p4Points, med: p4Median, up: p4Upper, lo: p4Lower,
  bUL: p4UpLo, bUH: p4UpHi, bML: p4MedLo, bMH: p4MedHi, bLL: p4LowLo, bLH: p4LowHi},
 {title: p5Title, fl: 206.7, fr: 518.7, ft: 499.3, fb: 674, tb: 491.5, xb: 696.5, xdom: [-0.22, 4.83], minorX: [0.5, 1.5, 2.5, 3.5, 4.5],
  visits: p5Visits, labels: p5Labels, pts: p5Points, med: p5Median, up: p5Upper, lo: p5Lower,
  bUL: p5UpLo, bUH: p5UpHi, bML: p5MedLo, bMH: p5MedHi, bLL: p5LowLo, bLH: p5LowHi}
];

const chart = document.getElementById("chart");
const fontFam = '"Liberation Sans", Arial, sans-serif';
const bandCol = "#E8A212", medCol = "#D96A2B";

for (const p of panels) {
  const mL = 30, mR = 6, mT = 4, mB = 16;
  const W = (p.fr - p.fl) + mL + mR, H = (p.fb - p.ft) + mT + mB;
  const points = p.pts.flatMap(c => c.slice(1).map(y => ({x: c[0], y})));
  const rows = p.visits.map((v, i) => ({x: v, ul: p.bUL[i], uh: p.bUH[i], ml: p.bML[i], mh: p.bMH[i],
    ll: p.bLL[i], lh: p.bLH[i], md: p.med[i], up: p.up[i], lo: p.lo[i]}));
  const majorX = p.labels.map((_, i) => i);
  const svg = Plot.plot({
    width: W, height: H, marginLeft: mL, marginRight: mR, marginTop: mT, marginBottom: mB,
    x: {domain: p.xdom, ticks: majorX, tickFormat: i => p.labels[i], tickSize: 3, tickPadding: 2.5, label: null},
    y: {domain: yDomain, ticks: yTicks, tickSize: 3, tickPadding: 2, label: null},
    style: {fontSize: "8.3px", fontFamily: fontFam, color: "#4D4D4D", background: "transparent", overflow: "visible"},
    marks: [
      Plot.ruleX(p.minorX, {stroke: "#EBEBEB", strokeWidth: 0.5}),
      Plot.ruleY(yMinor, {stroke: "#EBEBEB", strokeWidth: 0.5}),
      Plot.ruleX(majorX, {stroke: "#E6E6E6", strokeWidth: 0.9}),
      Plot.ruleY(yTicks, {stroke: "#E6E6E6", strokeWidth: 0.9}),
      Plot.dot(points, {x: "x", y: "y", r: 1.3, fill: "#000"}),
      Plot.areaY(rows, {x: "x", y1: "ul", y2: "uh", fill: bandCol, fillOpacity: 0.4}),
      Plot.areaY(rows, {x: "x", y1: "ml", y2: "mh", fill: medCol, fillOpacity: 0.4}),
      Plot.areaY(rows, {x: "x", y1: "ll", y2: "lh", fill: bandCol, fillOpacity: 0.4}),
      Plot.line(rows, {x: "x", y: "md", stroke: "#333", strokeWidth: 0.9}),
      Plot.line(rows, {x: "x", y: "up", stroke: "#333", strokeWidth: 0.8, strokeDasharray: "3,2"}),
      Plot.line(rows, {x: "x", y: "lo", stroke: "#333", strokeWidth: 0.8, strokeDasharray: "3,2"}),
      Plot.frame({stroke: "#9A9A9A", strokeWidth: 0.9})
    ]
  });
  const div = document.createElement("div");
  div.className = "panel";
  div.style.left = (p.fl - mL) + "px";
  div.style.top = (p.ft - mT) + "px";
  div.appendChild(svg);
  chart.appendChild(div);
}

// ---------- text overlay: titles and axis titles ----------
const ov = d3.select(chart).append("svg").attr("id", "overlay")
  .attr("width", 709).attr("height", 698).style("font-family", fontFam);
for (const p of panels) {
  ov.append("text").attr("x", p.fl).attr("y", p.tb).attr("font-size", 12.3).attr("fill", "#000").text(p.title);
  ov.append("text").attr("x", (p.fl + p.fr) / 2).attr("y", p.xb).attr("font-size", 10.5)
    .attr("text-anchor", "middle").attr("fill", "#000").text(xTitle);
  const cx = p.fl - 21, cy = (p.ft + p.fb) / 2;
  ov.append("text").attr("transform", `translate(${cx},${cy}) rotate(-90)`).attr("font-size", 10.5)
    .attr("text-anchor", "middle").attr("fill", "#000").text(yTitle);
}
</script></body></html>
